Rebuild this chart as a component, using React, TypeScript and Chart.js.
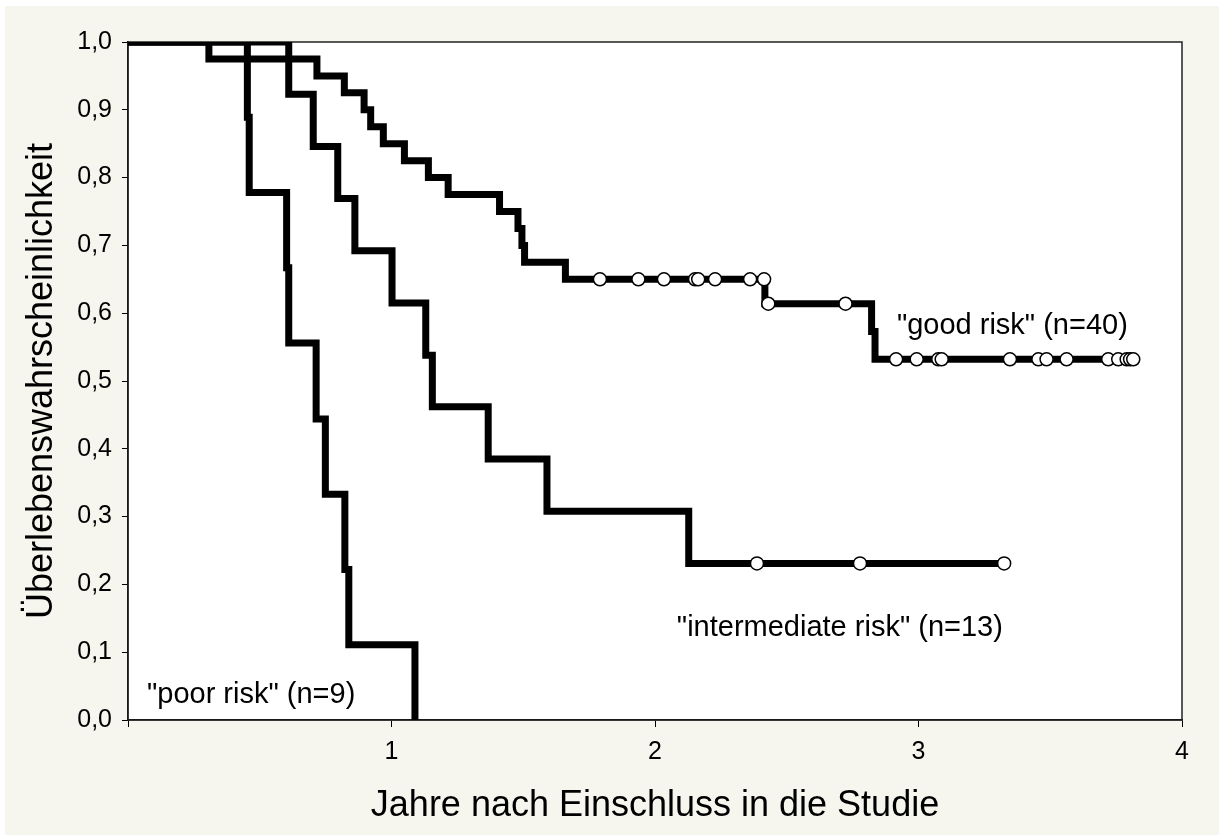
import React, { useEffect, useRef } from "react";
import { Chart, registerables } from "chart.js";

Chart.register(...registerables);

// ---- Data ----
// Kaplan-Meier step curves: time in years, survival probability after each step
const goodTimes = [0, 0.307, 0.717, 0.821, 0.896, 0.921, 0.969, 1.049, 1.14, 1.215, 1.41, 1.48, 1.495, 1.505, 1.66, 2.417, 2.822, 2.835, 3.815];
const goodSurv = [1, 0.975, 0.95, 0.925, 0.9, 0.875, 0.85, 0.825, 0.8, 0.775, 0.75, 0.725, 0.7, 0.675, 0.65, 0.614, 0.573, 0.532, 0.532];
const goodCensTimes = [1.791, 1.937, 2.034, 2.152, 2.164, 2.228, 2.361, 2.414, 2.43, 2.723, 2.915, 2.993, 3.075, 3.088, 3.347, 3.455, 3.486, 3.562, 3.72, 3.758, 3.79, 3.803, 3.815];
const goodCensSurv = [0.65, 0.65, 0.65, 0.65, 0.65, 0.65, 0.65, 0.65, 0.614, 0.614, 0.532, 0.532, 0.532, 0.532, 0.532, 0.532, 0.532, 0.532, 0.532, 0.532, 0.532, 0.532, 0.532];

const interTimes = [0, 0.61, 0.703, 0.796, 0.861, 1.002, 1.13, 1.155, 1.367, 1.59, 2.128, 3.325];
const interSurv = [1, 0.923, 0.846, 0.769, 0.692, 0.615, 0.538, 0.462, 0.385, 0.308, 0.231, 0.231];
const interCensTimes = [2.387, 2.778, 3.325];
const interCensSurv = [0.231, 0.231, 0.231];

const poorTimes = [0, 0.453, 0.46, 0.602, 0.61, 0.714, 0.749, 0.823, 0.838, 1.089];
const poorSurv = [1, 0.889, 0.778, 0.667, 0.556, 0.444, 0.333, 0.222, 0.111, 0];

// Tick labels
const xTickLabels = ["", "1", "2", "3", "4"];
const yTickLabels = ["0,0", "0,1", "0,2", "0,3", "0,4", "0,5", "0,6", "0,7", "0,8", "0,9", "1,0"];

// Curve annotations (text, x in years, y in probability at text baseline)
const annoTexts = ['"good risk" (n=40)', '"intermediate risk" (n=13)', '"poor risk" (n=9)'];
const annoX = [2.918, 2.083, 0.072];
const annoY = [0.569, 0.124, 0.025];

const xTitle = "Jahre nach Einschluss in die Studie";
const yTitle = "Überlebenswahrscheinlichkeit";

const FONT = "'Liberation Sans', Arial, sans-serif";
const BEIGE = "#f6f6ef";

const toPts = (xs: number[], ys: number[]) => xs.map((x, i) => ({ x, y: ys[i] }));

export default function App() {
  const ref = useRef<HTMLCanvasElement | null>(null);

  useEffect(() => {
    if (!ref.current) return;

    const bgPlugin = {
      id: "bgPlugin",
      beforeDraw(chart: any) {
        const { ctx, chartArea } = chart;
        const { left, top, right, bottom } = chartArea;
        ctx.save();
        ctx.fillStyle = "#ffffff";
        ctx.fillRect(0, 0, chart.width, chart.height);
        ctx.fillStyle = BEIGE;
        ctx.fillRect(5, 6, chart.width - 5, chart.height - 9);
        ctx.fillStyle = "#ffffff";
        ctx.fillRect(left, top, right - left, bottom - top);
        ctx.restore();
      },
      beforeDatasetsDraw(chart: any) {
        const { ctx, chartArea } = chart;
        const { left, top, right, bottom } = chartArea;
        ctx.save();
        ctx.strokeStyle = "#222";
        ctx.lineWidth = 1.5;
        ctx.strokeRect(left, top, right - left, bottom - top);
        ctx.restore();
      },
      afterDatasetsDraw(chart: any) {
        const { ctx } = chart;
        const xs = chart.scales.x;
        const ys = chart.scales.y;
        ctx.save();
        ctx.fillStyle = "#000";
        ctx.font = `29px ${FONT}`;
        ctx.textAlign = "left";
        ctx.textBaseline = "alphabetic";
        annoTexts.forEach((t, i) => {
          ctx.fillText(t, xs.getPixelForValue(annoX[i]), ys.getPixelForValue(annoY[i]));
        });
        ctx.restore();
      },
    };

    const lineDs = (label: string, xs: number[], ys: number[]) => ({
      label,
      data: toPts(xs, ys),
      showLine: true,
      stepped: "before" as const,
      borderColor: "#000",
      borderWidth: 7,
      borderJoinStyle: "miter" as const,
      borderCapStyle: "butt" as const,
      pointRadius: 0,
      pointHoverRadius: 0,
      fill: false,
      clip: 0,
    });
    const censDs = (label: string, xs: number[], ys: number[]) => ({
      label,
      data: toPts(xs, ys),
      showLine: false,
      pointRadius: 6.5,
      pointHoverRadius: 6.5,
      pointBackgroundColor: "#fff",
      pointBorderColor: "#000",
      pointBorderWidth: 1.5,
      clip: 10,
    });

    const chart = new Chart(ref.current, {
      type: "scatter",
      data: {
        datasets: [
          censDs("good censored", goodCensTimes, goodCensSurv),
          censDs("intermediate censored", interCensTimes, interCensSurv),
          lineDs("good risk", goodTimes, goodSurv),
          lineDs("intermediate risk", interTimes, interSurv),
          lineDs("poor risk", poorTimes, poorSurv),
        ] as any,
      },
      options: {
        animation: false,
        responsive: false,
        maintainAspectRatio: false,
        layout: { padding: { left: 0, top: 42, right: 37, bottom: 0 } },
        plugins: {
          legend: { display: false },
          tooltip: { enabled: false },
        },
        scales: {
          x: {
            type: "linear",
            min: 0,
            max: 4,
            afterFit: (s: any) => {
              s.height = 118;
            },
            ticks: {
              stepSize: 1,
              padding: 13,
              color: "#000",
              font: { family: FONT, size: 25, lineHeight: 1 },
              callback: (_v: any, i: number) => xTickLabels[i],
            },
            grid: {
              drawOnChartArea: false,
              drawTicks: true,
              tickLength: 7,
              color: "#000",
              lineWidth: 1,
            },
            border: { display: true, color: "#000", width: 1.5 },
            title: {
              display: true,
              text: xTitle,
              color: "#000",
              font: { family: FONT, size: 36, lineHeight: 1 },
              padding: { top: 0, bottom: 14 },
            },
          },
          y: {
            type: "linear",
            min: 0,
            max: 1,
            afterFit: (s: any) => {
              s.width = 128;
            },
            ticks: {
              stepSize: 0.1,
              padding: 10,
              color: "#000",
              font: { family: FONT, size: 25, lineHeight: 1 },
              callback: (_v: any, i: number) => yTickLabels[i],
            },
            grid: {
              drawOnChartArea: false,
              drawTicks: true,
              tickLength: 6,
              color: "#000",
              lineWidth: 1,
            },
            border: { display: true, color: "#000", width: 1.5 },
            title: {
              display: true,
              text: yTitle,
              color: "#000",
              font: { family: FONT, size: 36, lineHeight: 1 },
              padding: { top: 24, bottom: 0 },
            },
          },
        },
      },
      plugins: [bgPlugin],
    });

    return () => chart.destroy();
  }, []);

  return (
    <div style={{ position: "fixed", left: 0, top: 0, width: 1219, height: 838 }}>
      <canvas ref={ref} width={1219} height={838} style={{ display: "block", width: 1219, height: 838 }} />
    </div>
  );
}
